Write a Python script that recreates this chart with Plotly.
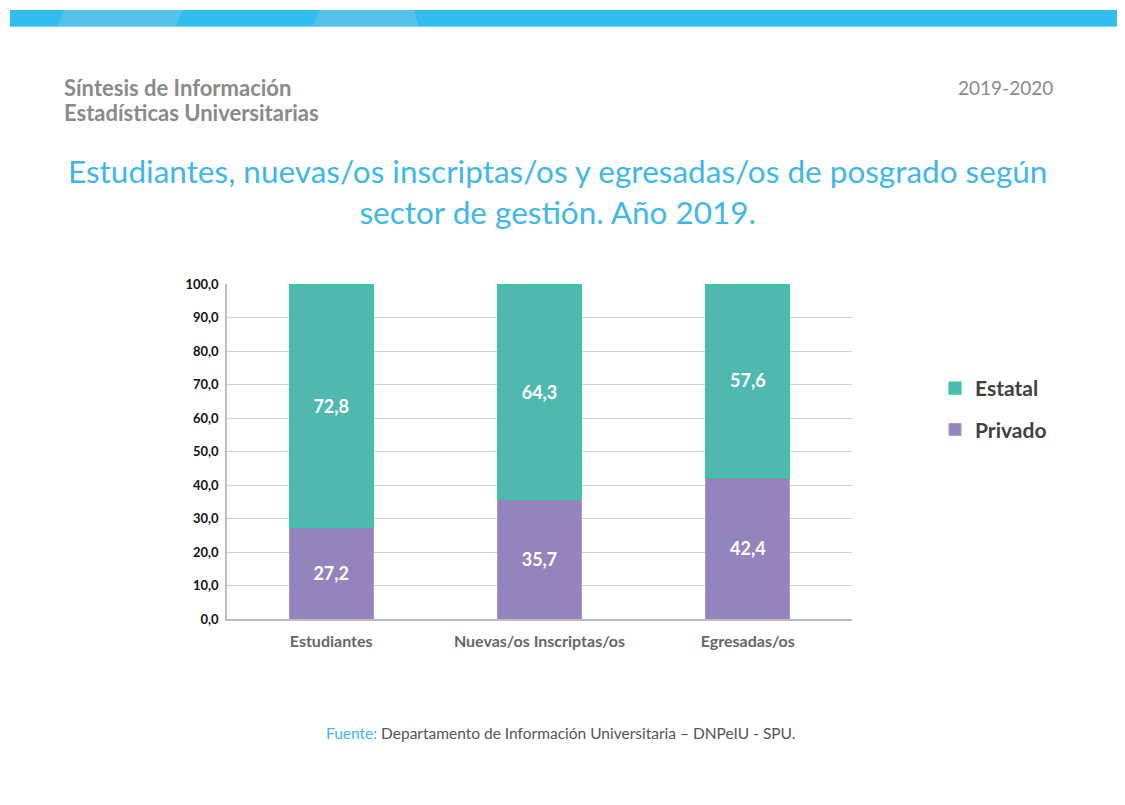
import plotly.graph_objects as go

categories = ["Estudiantes", "Nuevas/os Inscriptas/os", "Egresadas/os"]
privado = [27.2, 35.7, 42.4]
estatal = [72.8, 64.3, 57.6]
series_names = ["Privado", "Estatal"]
y_ticks = [0, 10, 20, 30, 40, 50, 60, 70, 80, 90, 100]

OFF = 8  # page body margin
W, H = 1125 - OFF, 805 - OFF
L, R, T, B = 227 - OFF, 852 - OFF, 284 - OFF, 619 - OFF

def px(x):
    # x given in page pixels
    return (x - OFF - L) / (R - L)

def py(y):
    return (B - (y - OFF)) / (B - T)

fig = go.Figure()
fig.add_trace(go.Bar(
    x=categories, y=privado, name=series_names[0], legendgroup="p", legendrank=2,
    marker=dict(color="#9484BE", line=dict(color="#A89AD0", width=1)),
    text=[f"{v:.1f}".replace(".", ",") for v in privado],
    textposition="inside", insidetextanchor="middle",
    textfont=dict(color="white", size=18, family="Lato", weight="bold"),
))
fig.add_trace(go.Bar(
    x=categories, y=estatal, name=series_names[1], legendgroup="e", legendrank=1,
    marker=dict(color="#4FB8AF", line=dict(color="#2ED197", width=1.2)),
    text=[f"{v:.1f}".replace(".", ",") for v in estatal],
    textposition="inside", insidetextanchor="middle",
    textfont=dict(color="white", size=18, family="Lato", weight="bold"),
))

shapes = []
shapes.append(dict(type="rect", xref="paper", yref="paper",
                   x0=px(10), x1=px(1125), y0=py(27), y1=py(10),
                   fillcolor="#31BDED", line=dict(width=0), layer="above"))
for (a, b, c, d) in [(57, 65, 183, 175), (312, 320, 414, 419)]:
    path = f"M {px(a)} {py(27)} L {px(b)} {py(10)} L {px(c)} {py(10)} L {px(d)} {py(27)} Z"
    shapes.append(dict(type="path", xref="paper", yref="paper", path=path,
                       fillcolor="#55C2E9", line=dict(width=0), layer="above"))
shapes.append(dict(type="line", xref="paper", yref="paper",
                   x0=px(10), x1=px(1125), y0=py(26.5), y1=py(26.5),
                   line=dict(color="#7FD3F2", width=1), layer="above"))

annotations = [
    dict(text="<b>Síntesis de Información</b>",
         xref="paper", yref="paper", x=px(62), y=py(87), xanchor="left", yanchor="middle",
         showarrow=False, align="left",
         font=dict(family="Lato", size=22, color="#8A8A8A")),
    dict(text="<b>Estadísticas Universitarias</b>",
         xref="paper", yref="paper", x=px(62), y=py(112), xanchor="left", yanchor="middle",
         showarrow=False, align="left",
         font=dict(family="Lato", size=22, color="#8A8A8A")),
    dict(text="2019-2020", xref="paper", yref="paper", x=px(1055), y=py(87),
         xanchor="right", yanchor="middle", showarrow=False,
         font=dict(family="Lato", size=19, color="#8A8A8A")),
    dict(text="Estudiantes, nuevas/os inscriptas/os y egresadas/os de posgrado según<br>sector de gestión. Año 2019.",
         xref="paper", yref="paper", x=px(557), y=py(150), xanchor="center", yanchor="top",
         showarrow=False, align="center",
         font=dict(family="Lato", size=31.5, color="#3DB8E8")),
    dict(text="<span style='color:#3DB8E8'>Fuente:</span> Departamento de Información Universitaria – DNPeIU - SPU.",
         xref="paper", yref="paper", x=px(560), y=py(733), xanchor="center", yanchor="middle",
         showarrow=False, font=dict(family="Lato", size=15.5, color="#555555")),
]

fig.update_layout(
    width=W, height=H,
    margin=dict(l=L, r=W - R, t=T, b=H - B, autoexpand=False),
    paper_bgcolor="white", plot_bgcolor="white",
    barmode="stack", bargap=0.597,
    separators=",.",
    shapes=shapes, annotations=annotations,
    legend=dict(x=px(935), y=py(368), xanchor="left", yanchor="top",
                traceorder="grouped", tracegroupgap=11,
                font=dict(family="Lato", size=21, color="#404040", weight="bold"),
                bgcolor="rgba(0,0,0,0)", itemwidth=30),
    uniformtext=dict(minsize=10, mode="show"),
)
fig.update_yaxes(range=[0, 100], tickvals=y_ticks, tickformat=".1f",
                 showgrid=True, gridcolor="#D0D0D0", gridwidth=1,
                 showline=True, linecolor="#BDBDBD", linewidth=1.5,
                 zeroline=False, ticks="", ticklen=0, ticklabelstandoff=4,
                 tickfont=dict(family="Lato", size=13, color="#111111", weight="bold"))
fig.update_xaxes(showline=True, linecolor="#BDBDBD", linewidth=1.5, showgrid=False,
                 ticklabelstandoff=7,
                 tickfont=dict(family="Lato", size=16, color="#666666", weight="bold"))

fig.write_html("out.html")
